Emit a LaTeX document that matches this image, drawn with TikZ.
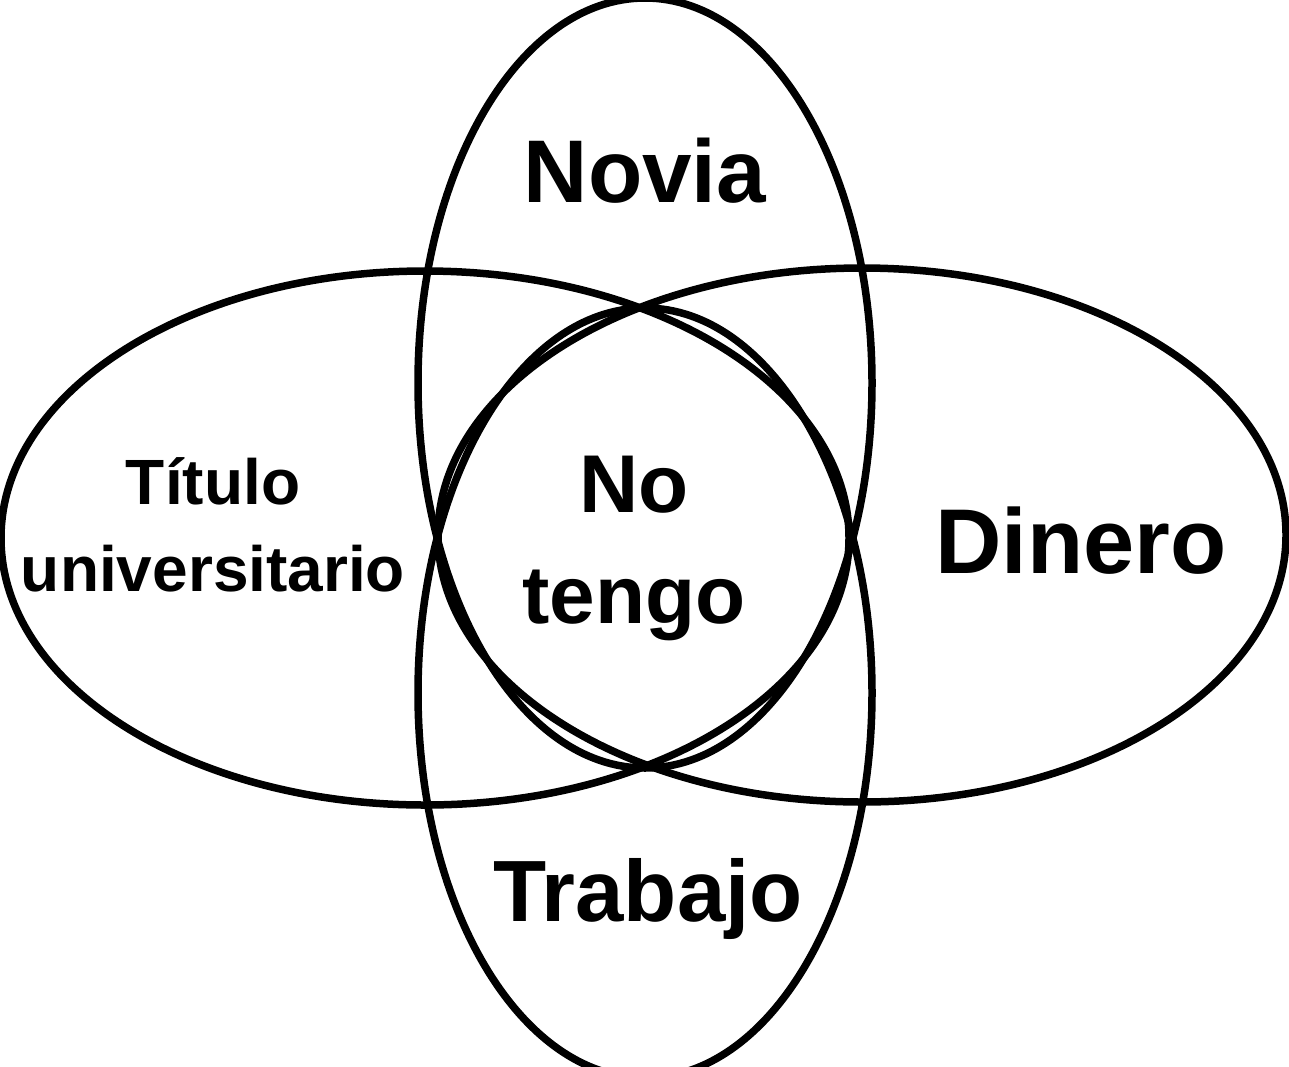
\documentclass[tikz,border=0pt]{standalone}
\usepackage{fontspec}
\setmainfont{Liberation Sans}
\begin{document}
\begin{tikzpicture}[x=1pt,y=-1pt,
  oval/.style={line width=7.5pt,draw=black},
  lbl/.style={font=\bfseries,anchor=base,inner sep=0pt,align=center,text=black}]
\useasboundingbox (0,0) rectangle (1289,1066);
\fill[white] (0,0) rectangle (1289,1066);
\clip (0,0) rectangle (1289,1066);
% four ovals
\draw[oval] (425,538) ellipse [x radius=424, y radius=267];
\draw[oval] (862,535) ellipse [x radius=424, y radius=267];
\draw[oval] (645,383) ellipse [x radius=227, y radius=385];
\draw[oval] (645,693) ellipse [x radius=227, y radius=385];
% labels (base = baseline of the last line)
\node[lbl,font=\bfseries\fontsize{89}{100}\selectfont] (novia) at (645,202) {Novia};
\node[lbl,font=\bfseries\fontsize{92}{100}\selectfont] (dinero) at (1081,573) {Dinero};
\node[lbl,font=\bfseries\fontsize{87}{100}\selectfont] (trabajo) at (648,921) {Trabajo};
\node[lbl,font=\bfseries\fontsize{64}{87}\selectfont] (titulo) at (213,591) {Título\\universitario};
\node[lbl,font=\bfseries\fontsize{82}{111}\selectfont] (notengo) at (634,623) {No\\tengo};
\end{tikzpicture}
\end{document}
